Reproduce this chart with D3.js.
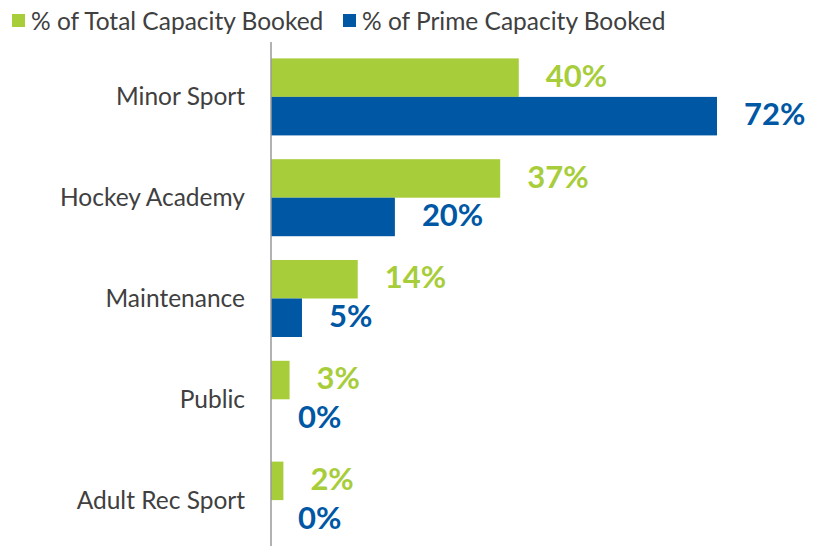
<!DOCTYPE html>
<html>
<head>
<meta charset="utf-8">
<script src="https://cdn.jsdelivr.net/npm/d3@7"></script>
<style>
  body { margin: 0; background: #fff; }
  svg text { font-family: Lato, "Open Sans", sans-serif; }
</style>
</head>
<body>
<div id="chart"></div>
<script>
var categories = ["Minor Sport", "Hockey Academy", "Maintenance", "Public", "Adult Rec Sport"];
var totalBooked = [40, 37, 14, 3, 2];
var primeBooked = [72, 20, 5, 0, 0];
var seriesNames = ["% of Total Capacity Booked", "% of Prime Capacity Booked"];
var colors = ["#a8cd3b", "#0057a4"];

var width = 820, height = 546;
var x0 = 271;

var svg = d3.select("#chart").append("svg")
    .attr("width", width)
    .attr("height", height);

var x = d3.scaleLinear().domain([0, 72]).range([x0, 717]);

var y = d3.scaleBand()
    .domain(categories)
    .range([46.5, 550.5])
    .paddingInner(0.236)
    .paddingOuter(0.118);

var y1 = d3.scaleBand()
    .domain([0, 1])
    .range([0, y.bandwidth()]);

var series = [totalBooked, primeBooked];

// bars + value labels
series.forEach(function(vals, s) {
  var g = svg.append("g");
  g.selectAll("rect")
    .data(vals)
    .enter().append("rect")
    .attr("x", x0)
    .attr("y", function(d, i) { return y(categories[i]) + y1(s); })
    .attr("width", function(d) { return x(d) - x0; })
    .attr("height", y1.bandwidth())
    .style("fill", colors[s]);

  g.selectAll("text")
    .data(vals)
    .enter().append("text")
    .attr("x", function(d) { return x(d) + 27; })
    .attr("y", function(d, i) { return y(categories[i]) + y1(s) + y1.bandwidth() / 2 - 2; })
    .attr("dy", "0.36em")
    .style("font-size", "31px")
    .style("font-weight", "bold")
    .style("fill", colors[s])
    .text(function(d) { return d + "%"; });
});

// category labels
svg.append("g").selectAll("text")
  .data(categories)
  .enter().append("text")
  .attr("x", 245)
  .attr("y", function(d) { return y(d) + y.bandwidth() / 2; })
  .attr("dy", "0.35em")
  .attr("text-anchor", "end")
  .style("font-size", "24.5px")
  .style("fill", "#404040")
  .text(function(d) { return d; });

// axis line
svg.append("line")
  .attr("x1", x0).attr("x2", x0)
  .attr("y1", 42).attr("y2", height)
  .style("stroke", "#999")
  .style("stroke-width", 1.5);

// legend
var legendX = [12, 343];
var legend = svg.selectAll(".legend")
  .data(seriesNames)
  .enter().append("g")
  .attr("class", "legend")
  .attr("transform", function(d, i) { return "translate(" + legendX[i] + ",0)"; });

legend.append("rect")
  .attr("x", 0).attr("y", 14)
  .attr("width", 13).attr("height", 13)
  .style("fill", function(d, i) { return colors[i]; });

legend.append("text")
  .attr("x", 19).attr("y", 21)
  .attr("dy", "0.35em")
  .style("font-size", "24.5px")
  .style("fill", "#404040")
  .text(function(d) { return d; });
</script>
</body>
</html>
